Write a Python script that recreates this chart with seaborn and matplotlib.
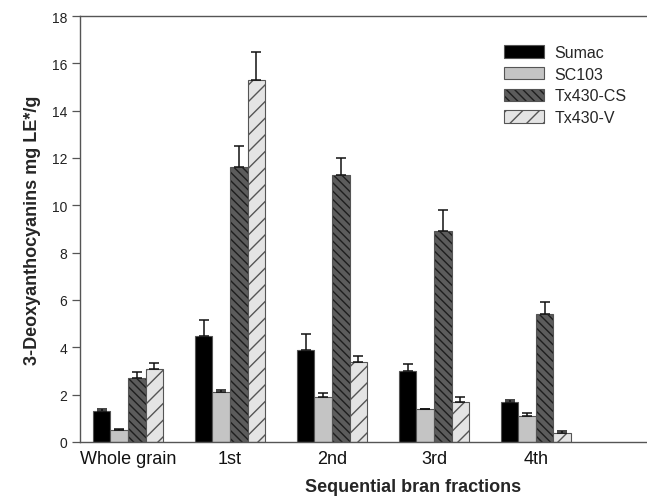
import numpy as np
import pandas as pd
import matplotlib
matplotlib.use("Agg")
import matplotlib.pyplot as plt
import seaborn as sns
from matplotlib.patches import Patch

fractions = ["Whole grain", "1st", "2nd", "3rd", "4th"]
cultivars = ["Sumac", "SC103", "Tx430-CS", "Tx430-V"]
sumac = [1.3, 4.5, 3.9, 3.0, 1.7]
sc103 = [0.5, 2.1, 1.9, 1.4, 1.1]
tx430_cs = [2.7, 11.6, 11.3, 8.9, 5.4]
tx430_v = [3.1, 15.3, 3.4, 1.7, 0.4]
sumac_err = [0.1, 0.65, 0.68, 0.28, 0.08]
sc103_err = [0.03, 0.1, 0.15, 0.0, 0.13]
tx430_cs_err = [0.25, 0.9, 0.7, 0.9, 0.5]
tx430_v_err = [0.25, 1.2, 0.22, 0.2, 0.05]
yticks = [0, 2, 4, 6, 8, 10, 12, 14, 16, 18]

values = [sumac, sc103, tx430_cs, tx430_v]
errors = [sumac_err, sc103_err, tx430_cs_err, tx430_v_err]

rows = []
for c, vals, errs in zip(cultivars, values, errors):
    for f, v, e in zip(fractions, vals, errs):
        rows.append({"fraction": f, "cultivar": c, "value": v, "err": e})
df = pd.DataFrame(rows)

sns.set_style("white")
plt.rcParams["font.family"] = ["Liberation Sans", "DejaVu Sans"]
plt.rcParams["hatch.linewidth"] = 1.0

fills = {"Sumac": "#000000", "SC103": "#c4c4c4", "Tx430-CS": "#5c5c5c", "Tx430-V": "#e4e4e4"}
hatches = {"Sumac": "", "SC103": "", "Tx430-CS": "\\\\\\\\", "Tx430-V": "//"}
hatch_cols = {"Sumac": "#000000", "SC103": "#777777", "Tx430-CS": "#1e1e1e", "Tx430-V": "#555555"}

fig = plt.figure(figsize=(6.47, 5.02), dpi=100)
ax = fig.add_axes([80 / 647, 1 - 443 / 502, (746 - 80) / 647, 426 / 502])

sns.barplot(data=df, x="fraction", y="value", hue="cultivar", order=fractions,
            hue_order=cultivars, palette=fills, errorbar=None, width=0.69,
            edgecolor="#555555", linewidth=0.8, ax=ax, legend=False)

for container, c, errs in zip(ax.containers, cultivars, errors):
    xs = []
    hs = []
    for p in container.patches:
        p.set_hatch(hatches[c])
        p._hatch_color = matplotlib.colors.to_rgba(hatch_cols[c])
        xs.append(p.get_x() + p.get_width() / 2)
        hs.append(p.get_height())
    ax.errorbar(xs, hs, yerr=[np.zeros(len(errs)), errs], fmt="none",
                ecolor="#111111", elinewidth=1.1, capsize=3.6, capthick=1.1, zorder=1)

handles = []
for c in cultivars:
    h = Patch(facecolor=fills[c], edgecolor="#555555", hatch=hatches[c], linewidth=0.8, label=c)
    h._hatch_color = matplotlib.colors.to_rgba(hatch_cols[c])
    handles.append(h)
leg = ax.legend(handles=handles, loc="upper left", bbox_to_anchor=(504 / 647, 1 - 46 / 502),
                bbox_transform=fig.transFigure, frameon=False, fontsize=11.5,
                handlelength=2.5, handleheight=0.8, handletextpad=0.65,
                labelspacing=0.42, borderpad=0, borderaxespad=0)

ax.set_xlim(-0.47, 6.06)
ax.set_ylim(0, 18)
ax.set_yticks(yticks)
ax.set_yticklabels([str(t) for t in yticks], fontsize=10, color="#222222")
ax.set_xticks(range(len(fractions)))
ax.set_xticklabels(fractions, fontsize=13, color="#111111")
ax.tick_params(axis="y", direction="out", length=6, width=0.9, color="#555555", left=True, pad=3)
ax.tick_params(axis="x", length=0, pad=6)
ax.set_xlabel("Sequential bran fractions", fontsize=13, fontweight="bold", labelpad=8)
ax.set_ylabel("3-Deoxyanthocyanins mg LE*/g", fontsize=13, fontweight="bold", labelpad=8)

for s in ["left", "bottom", "top"]:
    ax.spines[s].set_color("#555555")
    ax.spines[s].set_linewidth(1.0)
    ax.spines[s].set_visible(True)
ax.spines["right"].set_visible(False)

fig.savefig("out.png", dpi=100)
